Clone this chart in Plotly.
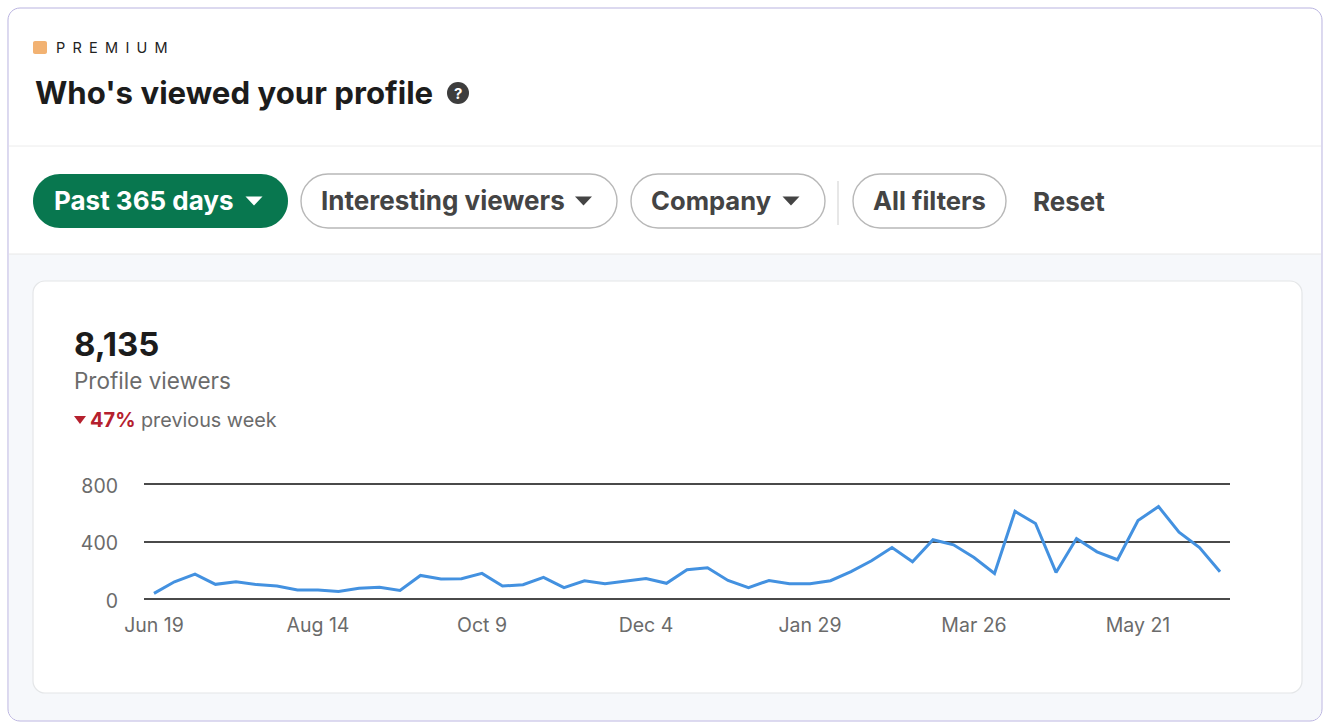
import datetime as dt
import plotly.graph_objects as go

W, H = 1328, 728
# ---- data ----
start_date = "2022-06-19"
viewers = [39, 120, 173, 102, 120, 100, 90, 62, 62, 53, 74, 81, 60, 164, 139, 141, 178, 90, 99, 150,
           79, 127, 106, 125, 143, 109, 203, 217, 129, 79, 129, 106, 106, 127, 190, 266, 358, 259, 412, 377,
           289, 178, 610, 525, 185, 421, 328, 273, 546, 643, 465, 358, 190]
x_tick_dates = ["2022-06-19", "2022-08-14", "2022-10-09", "2022-12-04", "2023-01-29", "2023-03-26", "2023-05-21"]
x_tick_labels = ["Jun 19", "Aug 14", "Oct 9", "Dec 4", "Jan 29", "Mar 26", "May 21"]
y_ticks = [0, 400, 800]

FONT = "Inter, Roboto, Arial, sans-serif"
s0 = dt.datetime.fromisoformat(start_date)
dates = [s0 + dt.timedelta(weeks=i) for i in range(len(viewers))]
pad = dt.timedelta(days=3.41)


def px(x):
    return x / W


def py(y):
    return 1 - y / H


def rr(x0, y0, x1, y1, r):
    k = r * 0.448
    pts = [("M", x0 + r, y0), ("L", x1 - r, y0),
           ("C", x1 - k, y0, x1, y0 + k, x1, y0 + r), ("L", x1, y1 - r),
           ("C", x1, y1 - k, x1 - k, y1, x1 - r, y1), ("L", x0 + r, y1),
           ("C", x0 + k, y1, x0, y1 - k, x0, y1 - r), ("L", x0, y0 + r),
           ("C", x0, y0 + k, x0 + k, y0, x0 + r, y0)]
    out = []
    for p in pts:
        c = p[0]
        v = p[1:]
        out.append(c + " ".join(f"{px(v[i]):.5f},{py(v[i + 1]):.5f}" for i in range(0, len(v), 2)))
    return " ".join(out) + " Z"


shapes = []


def box(x0, y0, x1, y1, r, fill, line=None, lw=1.0):
    shapes.append(dict(type="path", xref="paper", yref="paper", path=rr(x0, y0, x1, y1, r), fillcolor=fill,
                       line=dict(color=line or fill, width=lw if line else 0), layer="below"))


def hline(x0, x1, y, color, lw=1.0):
    shapes.append(dict(type="line", xref="paper", yref="paper", x0=px(x0), x1=px(x1), y0=py(y), y1=py(y),
                       line=dict(color=color, width=lw), layer="below"))


def tri(cx, cy, w, h, fill):
    p = (f"M{px(cx - w / 2):.5f},{py(cy - h / 2):.5f} L{px(cx + w / 2):.5f},{py(cy - h / 2):.5f} "
         f"L{px(cx):.5f},{py(cy + h / 2):.5f} Z")
    shapes.append(dict(type="path", xref="paper", yref="paper", path=p, fillcolor=fill, line=dict(width=0),
                       layer="above"))


annotations = []


def text(x, y, s, size, color, bold=False, anchor="left"):
    annotations.append(dict(xref="paper", yref="paper", x=px(x), y=py(y), xanchor=anchor, yanchor="middle",
                            text=f"<b>{s}</b>" if bold else s, showarrow=False, align="left",
                            font=dict(family=FONT, size=size, color=color)))


# card chrome
box(8, 8, 1322, 721, 12, "#ffffff", "#b9b3e0", 1)
box(9, 254, 1321, 720, 10, "#f6f8fb")
shapes.append(dict(type="rect", xref="paper", yref="paper", x0=px(9), x1=px(1321), y0=py(254), y1=py(280),
                   fillcolor="#f6f8fb", line=dict(width=0), layer="below"))
hline(9, 1321, 146, "#ececec", 1)
hline(9, 1321, 254, "#e8e8e8", 1)
box(33, 281, 1302, 693, 12, "#ffffff", "#e4e6e8", 1.2)

# header
box(33, 41, 47, 54, 2, "#f2b272")
text(54, 48, "P\u2002R\u2002E\u2002M\u2002I\u2002U\u2002M", 14.5, "#222222", False)
text(33, 93, "Who's viewed your profile", 31.2, "#1c1c1c", True)
shapes.append(dict(type="circle", xref="paper", yref="paper", x0=px(447), x1=px(469), y0=py(82), y1=py(104),
                   fillcolor="#3d3d3d", line=dict(width=0), layer="below"))
text(458, 93, "?", 15, "#ffffff", True, anchor="center")

# filter pills
box(33, 174, 288, 228, 27, "#08774f")
box(301, 174, 617, 228, 27, "#ffffff", "#b8b8b8", 1.4)
box(631, 174, 825, 228, 27, "#ffffff", "#b8b8b8", 1.4)
box(853, 174, 1006, 228, 27, "#ffffff", "#b8b8b8", 1.4)
shapes.append(dict(type="line", xref="paper", yref="paper", x0=px(838), x1=px(838), y0=py(181), y1=py(225),
                   line=dict(color="#cfcfcf", width=1), layer="below"))
text(52, 200, "Past 365 days", 26, "#ffffff", True)
text(319, 200, "Interesting viewers", 26, "#444444", True)
text(649, 200, "Company", 25.6, "#444444", True)
text(871, 200, "All filters", 25.6, "#444444", True)
text(1031, 201, "Reset", 26, "#444444", True)
tri(254, 201, 17, 9, "#ffffff")
tri(583.5, 201, 17, 9, "#444444")
tri(791, 201, 17, 9, "#444444")

# KPI
text(72, 344, "8,135", 33, "#1c1c1c", True)
text(72, 380, "Profile viewers", 22.5, "#6b6b6b")
tri(80, 420, 12, 8, "#b5202e")
text(88, 420, "47%", 20, "#b5202e", True)
text(139, 420, "previous week", 19.8, "#6b6b6b")

fig = go.Figure(go.Scatter(x=dates, y=viewers, mode="lines", line=dict(color="#4391e0", width=3),
                           hoverinfo="skip", cliponaxis=False))
fig.update_layout(
    width=W, height=H, margin=dict(l=0, r=0, t=0, b=0, autoexpand=False), paper_bgcolor="#ffffff",
    plot_bgcolor="rgba(0,0,0,0)", showlegend=False, shapes=shapes, annotations=annotations,
    xaxis=dict(domain=[px(144), px(1230)], range=[dates[0] - pad, dates[-1] + pad], type="date", showgrid=False,
               zeroline=False, tickmode="array", tickvals=x_tick_dates, ticktext=x_tick_labels, ticks="",
               automargin=False, tickfont=dict(family=FONT, size=19.5, color="#6b6b6b"), ticklabelstandoff=12),
    yaxis=dict(domain=[py(599), py(474)], range=[0, 800 * 125 / 115], tickmode="array", tickvals=y_ticks,
               showgrid=True, gridcolor="#4a4a4a", gridwidth=1.5, zeroline=True, zerolinecolor="#4a4a4a",
               zerolinewidth=1.5, ticks="", automargin=False,
               tickfont=dict(family=FONT, size=19.5, color="#6b6b6b"), ticklabelstandoff=25, ticklabelshift=2),
)
fig.write_html("out.html", post_script="document.body.style.margin='0';", config={"displayModeBar": False})
